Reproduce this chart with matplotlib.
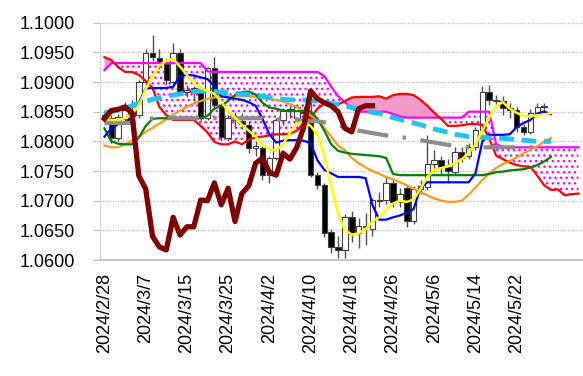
import matplotlib
matplotlib.use("Agg")
import matplotlib.pyplot as plt
import numpy as np

plt.rcParams["font.family"] = ["Liberation Sans", "DejaVu Sans"]

# x positions are trading-day slots starting at 2024/2/28
n_slots = 70
tick_labels = ["2024/2/28", "2024/3/7", "2024/3/15", "2024/3/25", "2024/4/2", "2024/4/10",
               "2024/4/18", "2024/4/26", "2024/5/6", "2024/5/14", "2024/5/22"]

# candles
open_ = [1.0845, 1.0839, 1.0806, 1.0837, 1.0843, 1.0845, 1.0900, 1.0949, 1.0941, 1.0930,
         1.0900, 1.0949, 1.0883, 1.0890, 1.0882, 1.0840, 1.0924, 1.0861, 1.0806, 1.0840,
         1.0834, 1.0828, 1.0789, 1.0789, 1.0743, 1.0772, 1.0836, 1.0852, 1.0840, 1.0853,
         1.0848, 1.0743, 1.0726, 1.0647, 1.0622, 1.0617, 1.0672, 1.0645, 1.0657, 1.0653,
         1.0701, 1.0701, 1.0730, 1.0697, 1.0721, 1.0665, 1.0720, 1.0723, 1.0762, 1.0768,
         1.0756, 1.0748, 1.0782, 1.0775, 1.0790, 1.0819, 1.0883, 1.0870, 1.0868, 1.0856,
         1.0853, 1.0824, 1.0816, 1.0848, 1.0858]
high = [1.0850, 1.0845, 1.0846, 1.0866, 1.0870, 1.0903, 1.0955, 1.0980, 1.0955, 1.0940,
        1.0966, 1.0955, 1.0895, 1.0893, 1.0888, 1.0926, 1.0942, 1.0865, 1.0845, 1.0850,
        1.0848, 1.0832, 1.0800, 1.0792, 1.0776, 1.0840, 1.0856, 1.0860, 1.0862, 1.0860,
        1.0887, 1.0748, 1.0730, 1.0652, 1.0640, 1.0677, 1.0682, 1.0670, 1.0680, 1.0705,
        1.0715, 1.0740, 1.0735, 1.0722, 1.0727, 1.0725, 1.0735, 1.0810, 1.0785, 1.0775,
        1.0770, 1.0790, 1.0790, 1.0798, 1.0825, 1.0893, 1.0895, 1.0878, 1.0876, 1.0865,
        1.0858, 1.0830, 1.0855, 1.0865, 1.0865]
low = [1.0835, 1.0797, 1.0800, 1.0832, 1.0838, 1.0840, 1.0895, 1.0935, 1.0922, 1.0895,
       1.0897, 1.0878, 1.0875, 1.0868, 1.0835, 1.0836, 1.0855, 1.0800, 1.0800, 1.0825,
       1.0820, 1.0780, 1.0775, 1.0735, 1.0730, 1.0768, 1.0828, 1.0840, 1.0832, 1.0840,
       1.0740, 1.0720, 1.0638, 1.0611, 1.0603, 1.0603, 1.0630, 1.0620, 1.0625, 1.0640,
       1.0690, 1.0695, 1.0690, 1.0690, 1.0655, 1.0660, 1.0712, 1.0718, 1.0750, 1.0745,
       1.0730, 1.0745, 1.0765, 1.0770, 1.0785, 1.0815, 1.0862, 1.0860, 1.0845, 1.0840,
       1.0815, 1.0810, 1.0812, 1.0842, 1.0850]
close = [1.0838, 1.0806, 1.0841, 1.0853, 1.0852, 1.0900, 1.0949, 1.0942, 1.0932, 1.0903,
         1.0949, 1.0883, 1.0887, 1.0882, 1.0840, 1.0924, 1.0861, 1.0808, 1.0840, 1.0836,
         1.0830, 1.0789, 1.0792, 1.0743, 1.0772, 1.0836, 1.0852, 1.0854, 1.0858, 1.0848,
         1.0743, 1.0726, 1.0645, 1.0622, 1.0617, 1.0672, 1.0643, 1.0657, 1.0655, 1.0701,
         1.0700, 1.0730, 1.0697, 1.0712, 1.0665, 1.0720, 1.0725, 1.0762, 1.0768, 1.0756,
         1.0750, 1.0782, 1.0772, 1.0790, 1.0819, 1.0883, 1.0870, 1.0868, 1.0856, 1.0853,
         1.0824, 1.0816, 1.0848, 1.0858, 1.0859]

# cloud spans
span_a = [1.0942, 1.0937, 1.0925, 1.0917, 1.0917, 1.0912, 1.0902, 1.0890, 1.0858, 1.0844,
          1.0836, 1.0836, 1.0836, 1.0836, 1.0826, 1.0815, 1.0799, 1.0795, 1.0795, 1.0800,
          1.0795, 1.0803, 1.0807, 1.0808, 1.0810, 1.0812, 1.0812, 1.0813, 1.0818, 1.0831,
          1.0840, 1.0855, 1.0864, 1.0864, 1.0862, 1.0868, 1.0874, 1.0875, 1.0875, 1.0875,
          1.0876, 1.0872, 1.0878, 1.0880, 1.0880, 1.0878, 1.0870, 1.0860, 1.0848, 1.0838,
          1.0826, 1.0826, 1.0827, 1.0829, 1.0829, 1.0828, 1.0805, 1.0776, 1.0770, 1.0764,
          1.0760, 1.0758, 1.0757, 1.0742, 1.0726, 1.0718, 1.0719, 1.0709, 1.0711, 1.0712]
span_b = [1.0920, 1.0932, 1.0932, 1.0932, 1.0932, 1.0932, 1.0932, 1.0932, 1.0932, 1.0932,
          1.0932, 1.0932, 1.0932, 1.0932, 1.0932, 1.0918, 1.0917, 1.0917, 1.0917, 1.0917,
          1.0917, 1.0917, 1.0917, 1.0917, 1.0917, 1.0917, 1.0917, 1.0917, 1.0917, 1.0917,
          1.0917, 1.0917, 1.0910, 1.0892, 1.0876, 1.0866, 1.0855, 1.0850, 1.0850, 1.0850,
          1.0850, 1.0850, 1.0846, 1.0842, 1.0840, 1.0840, 1.0840, 1.0840, 1.0840, 1.0840,
          1.0840, 1.0840, 1.0840, 1.0850, 1.0850, 1.0850, 1.0850, 1.0795, 1.0790, 1.0790,
          1.0790, 1.0790, 1.0790, 1.0790, 1.0790, 1.0790, 1.0790, 1.0790, 1.0790, 1.0790]

# lagging line
lagging = [1.0838, 1.0852, 1.0854, 1.0858, 1.0848, 1.0742, 1.0720, 1.0640, 1.0622, 1.0617,
           1.0672, 1.0642, 1.0656, 1.0656, 1.0701, 1.0700, 1.0730, 1.0693, 1.0721, 1.0665,
           1.0712, 1.0725, 1.0763, 1.0772, 1.0748, 1.0743, 1.0780, 1.0770, 1.0790, 1.0824,
           1.0885, 1.0872, 1.0865, 1.0860, 1.0850, 1.0822, 1.0816, 1.0855, 1.0860, 1.0860]

# indicator lines
blue_line = [1.0808, 1.0822, 1.0829, 1.0831, 1.0840, 1.0865, 1.0889, 1.0890, 1.0890, 1.0890,
             1.0892, 1.0910, 1.0912, 1.0911, 1.0908, 1.0905, 1.0893, 1.0876, 1.0874, 1.0872,
             1.0870, 1.0866, 1.0860, 1.0838, 1.0812, 1.0798, 1.0801, 1.0802, 1.0802, 1.0801,
             1.0797, 1.0768, 1.0752, 1.0746, 1.0740, 1.0740, 1.0740, 1.0740, 1.0738, 1.0693,
             1.0668, 1.0668, 1.0672, 1.0675, 1.0680, 1.0686, 1.0722, 1.0731, 1.0731, 1.0731,
             1.0731, 1.0731, 1.0731, 1.0731, 1.0746, 1.0800, 1.0811, 1.0811, 1.0811, 1.0812,
             1.0824, 1.0831, 1.0836, 1.0847, 1.0850, 1.0846]
green_line = [1.0822, 1.0800, 1.0796, 1.0795, 1.0795, 1.0806, 1.0826, 1.0838, 1.0839, 1.0839,
              1.0839, 1.0839, 1.0839, 1.0839, 1.0839, 1.0843, 1.0855, 1.0860, 1.0868, 1.0878,
              1.0883, 1.0884, 1.0879, 1.0865, 1.0857, 1.0855, 1.0852, 1.0851, 1.0851, 1.0851,
              1.0850, 1.0838, 1.0818, 1.0795, 1.0784, 1.0781, 1.0779, 1.0778, 1.0777, 1.0776,
              1.0775, 1.0772, 1.0745, 1.0743, 1.0743, 1.0743, 1.0743, 1.0743, 1.0743, 1.0743,
              1.0743, 1.0743, 1.0743, 1.0743, 1.0743, 1.0743, 1.0745, 1.0748, 1.0749, 1.0751,
              1.0752, 1.0753, 1.0756, 1.0760, 1.0766, 1.0774]
yellow_line = [1.0838, 1.0836, 1.0836, 1.0839, 1.0846, 1.0860, 1.0888, 1.0910, 1.0928, 1.0936,
               1.0939, 1.0926, 1.0912, 1.0898, 1.0890, 1.0885, 1.0880, 1.0867, 1.0850, 1.0840,
               1.0828, 1.0818, 1.0808, 1.0795, 1.0786, 1.0785, 1.0795, 1.0815, 1.0830, 1.0833,
               1.0826, 1.0812, 1.0775, 1.0725, 1.0678, 1.0650, 1.0643, 1.0645, 1.0652, 1.0665,
               1.0672, 1.0685, 1.0695, 1.0700, 1.0698, 1.0702, 1.0720, 1.0740, 1.0752, 1.0755,
               1.0758, 1.0763, 1.0770, 1.0780, 1.0795, 1.0818, 1.0840, 1.0860, 1.0866, 1.0855,
               1.0848, 1.0843, 1.0842, 1.0844, 1.0845, 1.0848]
orange_line = [1.0793, 1.0790, 1.0790, 1.0795, 1.0801, 1.0808, 1.0816, 1.0823, 1.0830, 1.0837,
               1.0845, 1.0852, 1.0858, 1.0864, 1.0868, 1.0872, 1.0874, 1.0875, 1.0876, 1.0876,
               1.0876, 1.0876, 1.0875, 1.0874, 1.0872, 1.0870, 1.0867, 1.0863, 1.0858, 1.0851,
               1.0844, 1.0834, 1.0823, 1.0808, 1.0793, 1.0785, 1.0772, 1.0763, 1.0756, 1.0750,
               1.0745, 1.0740, 1.0736, 1.0731, 1.0726, 1.0720, 1.0714, 1.0709, 1.0704, 1.0700,
               1.0698, 1.0698, 1.0700, 1.0710, 1.0722, 1.0735, 1.0746, 1.0755, 1.0762, 1.0767,
               1.0773, 1.0780, 1.0786, 1.0792, 1.0799, 1.0806]
cyan_line = [1.0848, 1.0850, 1.0853, 1.0856, 1.0860, 1.0864, 1.0867, 1.0871, 1.0873, 1.0876,
             1.0878, 1.0880, 1.0882, 1.0884, 1.0885, 1.0885, 1.0884, 1.0883, 1.0882, 1.0881,
             1.0880, 1.0879, 1.0878, 1.0876, 1.0874, 1.0872, 1.0871, 1.0870, 1.0870, 1.0870,
             1.0869, 1.0868, 1.0866, 1.0864, 1.0862, 1.0860, 1.0857, 1.0854, 1.0852, 1.0849,
             1.0847, 1.0844, 1.0840, 1.0837, 1.0834, 1.0831, 1.0828, 1.0824, 1.0821, 1.0818,
             1.0815, 1.0812, 1.0810, 1.0808, 1.0807, 1.0807, 1.0806, 1.0805, 1.0805, 1.0804,
             1.0803, 1.0802, 1.0801, 1.0800, 1.0800, 1.0800]
gray_line = [1.0831, 1.0831, 1.0831, 1.0831, 1.0831, 1.0833, 1.0837, 1.0839, 1.0839, 1.0839,
             1.0839, 1.0839, 1.0839, 1.0839, 1.0839, 1.0839, 1.0839, 1.0839, 1.0839, 1.0839,
             1.0839, 1.0839, 1.0839, 1.0839, 1.0839, 1.0837, 1.0837, 1.0837, 1.0837, 1.0834,
             1.0834, 1.0834, 1.0832, 1.0830, 1.0827, 1.0824, 1.0821, 1.0818, 1.0816, 1.0814,
             1.0812, 1.0810, 1.0808, 1.0807, 1.0806, 1.0804, 1.0802, 1.0800, 1.0798, 1.0796,
             1.0794, 1.0793, 1.0792, 1.0790, 1.0790, 1.0790, 1.0790, 1.0790, 1.0790, 1.0790,
             1.0790, 1.0790, 1.0790, 1.0790, 1.0790]


def main():
    fig = plt.figure(figsize=(5.83, 3.76), dpi=100)
    ax = fig.add_axes([0.1715, 0.3085, 0.8285, 0.6311])

    x_all = np.arange(n_slots)
    a = np.array(span_a)
    b = np.array(span_b)
    ax.fill_between(x_all, a, b, where=a >= b, interpolate=True,
                    color="#F59AC8", linewidth=0, zorder=1)
    ax.fill_between(x_all, a, b, where=a <= b, interpolate=True,
                    facecolor="white", edgecolor="#FF00FF", hatch="...",
                    linewidth=0, zorder=1)

    # candles
    xc = np.arange(len(close))
    o = np.array(open_)
    c = np.array(close)
    ax.vlines(xc, low, high, color="#505050", linewidth=1.0, zorder=2)
    body_low = np.minimum(o, c)
    body_h = np.maximum(np.abs(c - o), 0.00008)
    colors = ["white" if cc >= oo else "black" for oo, cc in zip(o, c)]
    ax.bar(xc, body_h, bottom=body_low, width=0.8, color=colors,
           edgecolor="#404040", linewidth=0.8, zorder=2.5)

    ax.plot(x_all, span_b, color="#FF00FF", linewidth=1.6, zorder=3)
    ax.plot(x_all, span_a, color="#FF0000", linewidth=1.6, zorder=3)

    xl = np.arange(len(blue_line))
    ax.plot(xl, orange_line, color="#FF9A1A", linewidth=1.6, zorder=3)
    ax.plot(xl, green_line, color="#008000", linewidth=1.6, zorder=3)
    ax.plot(xl, blue_line, color="#0000FF", linewidth=1.6, zorder=3)
    ax.plot(np.arange(len(gray_line)), gray_line, color="#8C8C8C", linewidth=3.0,
            linestyle=(0, (7.5, 3.5, 0.8, 3.5)), zorder=3)
    ax.plot(xl, cyan_line, color="#1EC4F0", linewidth=3.5,
            linestyle=(0, (3, 1.6)), zorder=3)
    ax.plot(xl, yellow_line, color="#FFFF00", linewidth=1.8, zorder=3.5)
    ax.plot(np.arange(len(lagging)), lagging, color="#800000", linewidth=3.8, zorder=4)

    ax.set_ylim(1.06, 1.10)
    ax.set_xlim(-0.65, 69.65)
    ax.set_yticks(np.arange(1.06, 1.1001, 0.005))
    ax.set_yticklabels([f"{v:.4f}" for v in np.arange(1.06, 1.1001, 0.005)])
    ax.set_xticks(np.arange(0, 6 * len(tick_labels), 6))
    ax.set_xticklabels(tick_labels, rotation=90)

    ax.yaxis.grid(True, color="#BFBFBF", linestyle=(0, (1, 1)), linewidth=0.9)
    ax.set_axisbelow(True)
    for side in ("top", "right"):
        ax.spines[side].set_visible(False)
    ax.spines["left"].set_color("#D0D0D0")
    ax.spines["bottom"].set_color("#C0C0C0")
    ax.spines["bottom"].set_linewidth(1.2)
    ax.tick_params(axis="y", length=5, color="#C0C0C0", pad=13, labelsize=13)
    ax.tick_params(axis="x", length=0, pad=9, labelsize=13)

    fig.savefig("out.png", dpi=100)
    plt.close(fig)


if __name__ == "__main__":
    main()
